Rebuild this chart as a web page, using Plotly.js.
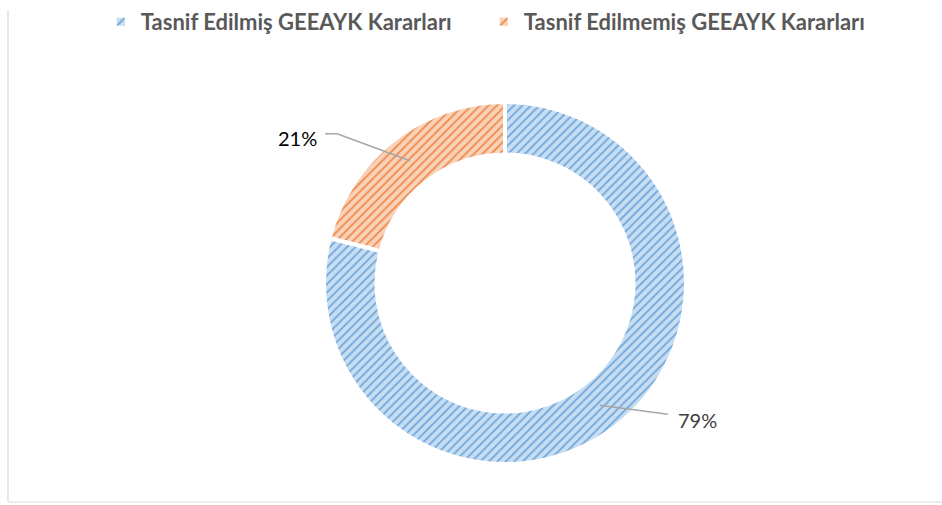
<!DOCTYPE html>
<html>
<head>
<meta charset="utf-8">
<script src="https://cdn.plot.ly/plotly-3.0.1.min.js"></script>
<style>html,body{margin:0;padding:0;background:#fff;}#chart{width:942px;height:505px;}</style>
</head>
<body>
<div id="chart"></div>
<script>
// Data
const categories = ["Tasnif Edilmiş GEEAYK Kararları", "Tasnif Edilmemiş GEEAYK Kararları"];
const values = [79, 21];
const valueLabels = ["79%", "21%"];
const bgColors = ["#C6DDF2", "#F9D2B8"];
const fgColors = ["#6FA6DA", "#EE8A4A"];

const W = 942, H = 505;
const cx = 505, cy = 283, R = 181, HOLE = 0.71;
const px = x => x / W;
const py = y => 1 - y / H;

const trace = {
  type: "pie",
  labels: categories,
  values: values,
  sort: false,
  direction: "clockwise",
  rotation: 0,
  hole: HOLE,
  textinfo: "none",
  hoverinfo: "label+percent",
  domain: {x: [px(cx - R), px(cx + R)], y: [py(cy + R), py(cy - R)]},
  marker: {
    colors: bgColors,
    line: {color: "#ffffff", width: 4},
    pattern: {shape: "/", fgcolor: fgColors, bgcolor: bgColors, size: 6, solidity: 0.3}
  }
};

// Leader lines & labels, anchored at slice mid-angles computed from values
const total = values.reduce((a, b) => a + b, 0);
const shapes = [];
const annotations = [];
let cum = 0;
const elbow = [[68, 9], [-73, -27]];
const tail = [[0, 0], [-12, 0]];
values.forEach((v, i) => {
  const mid = (cum + v / 2) / total * 2 * Math.PI;
  cum += v;
  const rr = R * (1 + HOLE) / 2;
  const tx = cx + rr * Math.sin(mid);
  const ty = cy - rr * Math.cos(mid);
  const ex = tx + elbow[i][0], ey = ty + elbow[i][1];
  const fx = ex + tail[i][0], fy = ey + tail[i][1];
  shapes.push({
    type: "path", xref: "paper", yref: "paper",
    path: `M ${px(tx)} ${py(ty)} L ${px(ex)} ${py(ey)} L ${px(fx)} ${py(fy)}`,
    line: {color: "#A6A6A6", width: 1.5}
  });
  const right = Math.sin(mid) > 0;
  annotations.push({
    xref: "paper", yref: "paper",
    x: px(fx + (right ? 8 : -6)), y: py(fy + (right ? 6 : 4)),
    xanchor: right ? "left" : "right", yanchor: "middle",
    text: valueLabels[i], showarrow: false,
    font: {family: "Lato, 'Open Sans', sans-serif", size: 20, color: right ? "#404040" : "#000000"}
  });
});

// chart area border (left and bottom edges visible)
shapes.push({type: "line", xref: "paper", yref: "paper", x0: px(8), x1: px(8), y0: py(10), y1: py(502), line: {color: "#D9D9D9", width: 1.2}});
shapes.push({type: "line", xref: "paper", yref: "paper", x0: px(8), x1: 1, y0: py(502), y1: py(502), line: {color: "#D9D9D9", width: 1.2}});

const layout = {
  width: W, height: H,
  margin: {l: 0, r: 0, t: 0, b: 0},
  paper_bgcolor: "#ffffff",
  showlegend: true,
  legend: {
    orientation: "h", x: 0.5136, xanchor: "center", y: py(1), yanchor: "top",
    font: {family: "Lato, 'Open Sans', sans-serif", size: 22, color: "#595959", weight: "bold"},
    itemwidth: 30, traceorder: "normal",
    entrywidth: 338, entrywidthmode: "pixels"
  },
  shapes: shapes,
  annotations: annotations
};

Plotly.newPlot("chart", [trace], layout, {displayModeBar: false, staticPlot: true});
</script>
</body>
</html>
